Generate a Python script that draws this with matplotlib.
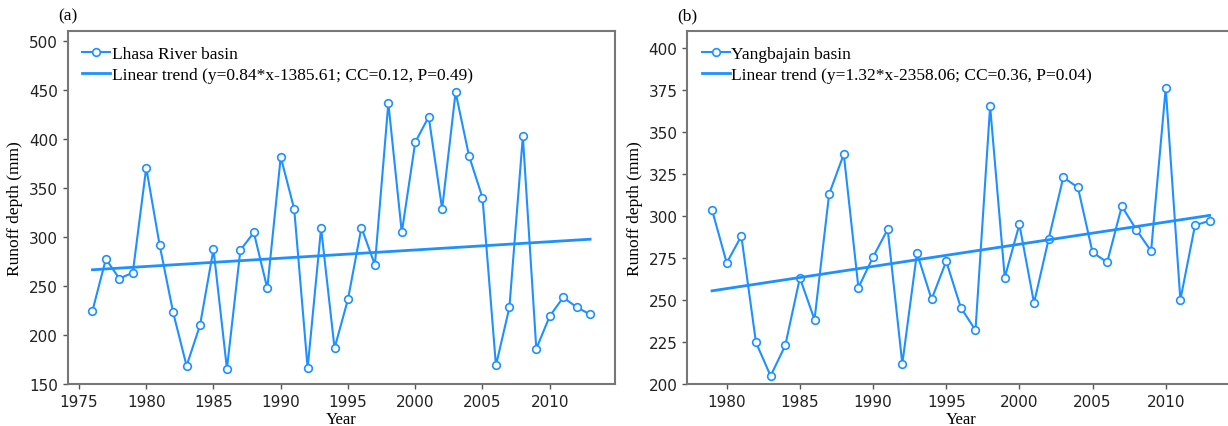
import numpy as np
import matplotlib
matplotlib.use('Agg')
import matplotlib.pyplot as plt

plt.rc('axes', linewidth=1.5, edgecolor='#777777')
plt.rc('xtick', labelsize=11, color='#555555', labelcolor='#222222')
plt.rc('ytick', labelsize=11, color='#555555', labelcolor='#222222')
plt.rc('xtick.major', size=3.5, width=1)
plt.rc('ytick.major', size=3.5, width=1)

serif = 'Liberation Serif'
blue = '#1E90FF'

# Lhasa River basin
years_a = np.arange(1976, 2014)
runoff_a = [225, 278, 258, 264, 371, 292, 223.5, 169, 210.5, 288,
            166, 287, 305, 248, 382, 329, 166.7, 309.5, 187, 237,
            310, 272, 437, 305, 397, 423, 329, 448, 383, 340.5,
            169.4, 228.6, 403, 186.4, 219.7, 238.8, 228.9, 221.4]
label_a = 'Lhasa River basin'
trend_a = 'Linear trend (y=0.84*x-1385.61; CC=0.12, P=0.49)'

# Yangbajain basin
years_b = np.arange(1979, 2014)
runoff_b = [303.8, 272.3, 288.3, 225, 205.1, 223.2, 263.4, 238.6, 313.3, 337,
            257.6, 275.8, 292.3, 212.3, 278.2, 250.7, 273.3, 245.7, 232.3, 365.5,
            263.6, 295.2, 248.5, 286.5, 323.2, 317.2, 278.6, 272.7, 306.1, 291.9,
            279.4, 376.4, 250.3, 294.7, 297.4]
label_b = 'Yangbajain basin'
trend_b = 'Linear trend (y=1.32*x-2358.06; CC=0.36, P=0.04)'

fig = plt.figure(figsize=(12.28, 4.27), dpi=100)
ax1 = fig.add_axes([0.0550, 0.0972, 0.4458, 0.828])
ax2 = fig.add_axes([0.5596, 0.0972, 0.4457, 0.828])


def panel(ax, years, runoff, label, trend, ylim, yticks, tag):
    ax.plot(years, runoff, color=blue, lw=1.5, marker='o', ms=5.5,
            mfc='white', mec=blue, mew=1.2, label=label)
    k, b = np.polyfit(years, runoff, 1)
    ax.plot(years, k * years + b, color=blue, lw=2, label=trend)
    ax.set_ylim(*ylim)
    ax.set_yticks(yticks)
    ax.set_xlabel('Year', family=serif, fontsize=12, labelpad=1)
    ax.set_ylabel('Runoff depth (mm)', family=serif, fontsize=12.5)
    ax.legend(loc='upper left', frameon=False, prop={'family': serif, 'size': 12.5},
              handlelength=1.6, handletextpad=0.1, labelspacing=0.28,
              borderaxespad=0.55, borderpad=0.3)
    ax.text(0.0, 1.02, tag, transform=ax.transAxes, ha='center', va='bottom',
            family=serif, fontsize=12.5)


panel(ax1, years_a, runoff_a, label_a, trend_a, (150, 510.5),
      np.arange(150, 501, 50), '(a)')
panel(ax2, years_b, runoff_b, label_b, trend_b, (200, 410.3),
      np.arange(200, 401, 25), '(b)')

fig.savefig('out.png', dpi=100)
